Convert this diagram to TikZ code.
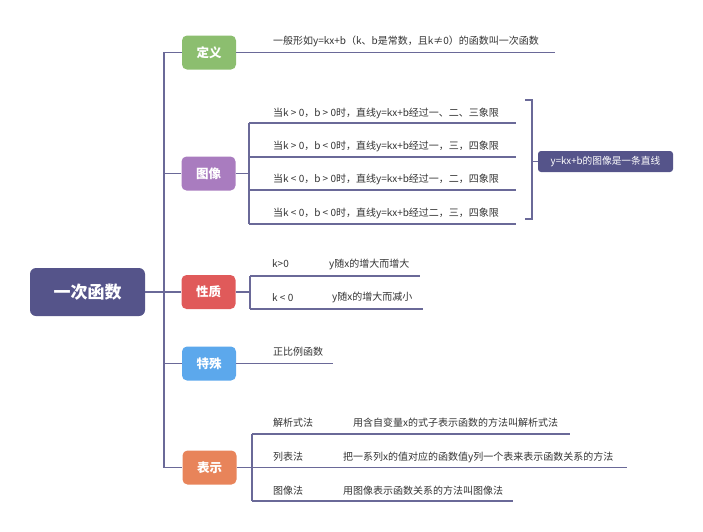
\documentclass[tikz,border=0pt]{standalone}
\usepackage{fontspec}
\setmainfont{Noto Sans CJK SC}
\usetikzlibrary{positioning}

\definecolor{rootcol}{HTML}{55548A}
\definecolor{linecol}{HTML}{6A6998}
\definecolor{textcol}{HTML}{333333}
\definecolor{dycol}{HTML}{8CBE6F}
\definecolor{txcol}{HTML}{A97CBF}
\definecolor{xzcol}{HTML}{E05A5A}
\definecolor{tscol}{HTML}{5CA8EC}
\definecolor{bscol}{HTML}{E8845A}

\tikzset{
    topic/.style={rounded corners=5pt, minimum width=54pt, minimum height=34pt,
        inner sep=0pt, text=white, font=\fontsize{12.5}{14}\selectfont\bfseries},
    branch/.style={draw=linecol, line width=1.3pt},
    leaf/.style={anchor=west, inner sep=0pt, text=textcol,
        font=\fontsize{10}{12}\selectfont},
}

\begin{document}
\begin{tikzpicture}[x=1pt,y=-1pt]
    \useasboundingbox (0,0) rectangle (703,531);

    % Root and topics
    \node[fill=rootcol, rounded corners=6pt, minimum width=115pt, minimum height=48pt,
        text=white, font=\fontsize{17}{20}\selectfont\bfseries] (root) at (87.5,292) {一次函数};
    \node[topic, fill=dycol] (dy) at (209,52.5) {定义};
    \node[topic, fill=txcol] (tx) at (208.5,173.5) {图像};
    \node[topic, fill=xzcol] (xz) at (208.5,292) {性质};
    \node[topic, fill=tscol] (ts) at (209,363.5) {特殊};
    \node[topic, fill=bscol] (bs) at (209.5,467.5) {表示};

    % Trunk
    \coordinate (trunk-top) at (164,52.5);
    \coordinate (trunk-bot) at (164,467.5);
    \draw[branch] (dy.west) -- (trunk-top) -- (trunk-bot) -- (bs.west);
    \draw[branch] (root.east) -- (root.east -| trunk-top);
    \draw[branch] (tx.west) -- (tx.west -| trunk-top);
    \draw[branch] (xz.west) -- (xz.west -| trunk-top);
    \draw[branch] (ts.west) -- (ts.west -| trunk-top);

    % 定义
    \coordinate (dy-end) at (555,52.5);
    \node[leaf] (dy-a) at (273,41) {一般形如y=kx+b（k、b是常数，且k≠0）的函数叫一次函数};
    \draw[branch] (dy.east) -- (dy-end);

    % 图像
    \coordinate (tx-v) at (249,173.5);
    \coordinate (tx-e1) at (516,123);
    \coordinate (tx-e2) at (516,157);
    \coordinate (tx-e3) at (516,190);
    \coordinate (tx-e4) at (516,224);
    \node[leaf] (tx-a) at (273,113) {当k > 0，b > 0时，直线y=kx+b经过一、二、三象限};
    \node[leaf] (tx-b) at (273,146) {当k > 0，b < 0时，直线y=kx+b经过一，三，四象限};
    \node[leaf] (tx-c) at (273,179.5) {当k < 0，b > 0时，直线y=kx+b经过一，二，四象限};
    \node[leaf] (tx-d) at (273,213) {当k < 0，b < 0时，直线y=kx+b经过二，三，四象限};
    \draw[branch] (tx.east) -- (tx-v);
    \draw[branch] (tx-e1 -| tx-v) -- (tx-e4 -| tx-v);
    \foreach \i in {1,...,4}
        \draw[branch] (tx-e\i -| tx-v) -- (tx-e\i);

    % bracket and summary
    \node[fill=rootcol, rounded corners=3pt, minimum width=135pt, minimum height=21pt,
        inner sep=0pt, text=white, font=\fontsize{9.7}{11}\selectfont] (tx-sum) at (605.5,161.5) {y=kx+b的图像是一条直线};
    \coordinate (br-top) at (532,100);
    \coordinate (br-bot) at (532,219);
    \draw[branch, line width=1.1pt] ([xshift=-7pt]br-top) -- (br-top) -- (br-bot) -- ([xshift=-7pt]br-bot);
    \draw[branch, line width=1.1pt] (tx-sum.west -| br-top) -- (tx-sum.west);

    % 性质
    \coordinate (xz-v) at (250,292);
    \coordinate (xz-e1) at (420,276);
    \coordinate (xz-e2) at (423,309);
    \node[leaf] (xz-a) at (272,264) {k>0};
    \node[leaf] (xz-a2) at (329,264) {y随x的增大而增大};
    \node[leaf] (xz-b) at (272,297.5) {k < 0};
    \node[leaf] (xz-b2) at (332,297.5) {y随x的增大而减小};
    \draw[branch] (xz.east) -- (xz-v);
    \draw[branch] (xz-e1 -| xz-v) -- (xz-e2 -| xz-v);
    \draw[branch] (xz-e1 -| xz-v) -- (xz-e1);
    \draw[branch] (xz-e2 -| xz-v) -- (xz-e2);

    % 特殊
    \coordinate (ts-end) at (333,363.5);
    \node[leaf] (ts-a) at (273,352) {正比例函数};
    \draw[branch] (ts.east) -- (ts-end);

    % 表示
    \coordinate (bs-v) at (252,467.5);
    \coordinate (bs-e1) at (570,434);
    \coordinate (bs-e2) at (627,467.5);
    \coordinate (bs-e3) at (513,501);
    \node[leaf] (bs-a) at (273,423) {解析式法};
    \node[leaf] (bs-a2) at (353,423) {用含自变量x的式子表示函数的方法叫解析式法};
    \node[leaf] (bs-b) at (273,457) {列表法};
    \node[leaf] (bs-b2) at (343,457) {把一系列x的值对应的函数值y列一个表来表示函数关系的方法};
    \node[leaf] (bs-c) at (273,491) {图像法};
    \node[leaf] (bs-c2) at (343,491) {用图像表示函数关系的方法叫图像法};
    \draw[branch] (bs.east) -- (bs-v);
    \draw[branch] (bs-e1 -| bs-v) -- (bs-e3 -| bs-v);
    \foreach \i in {1,2,3}
        \draw[branch] (bs-e\i -| bs-v) -- (bs-e\i);
\end{tikzpicture}
\end{document}
